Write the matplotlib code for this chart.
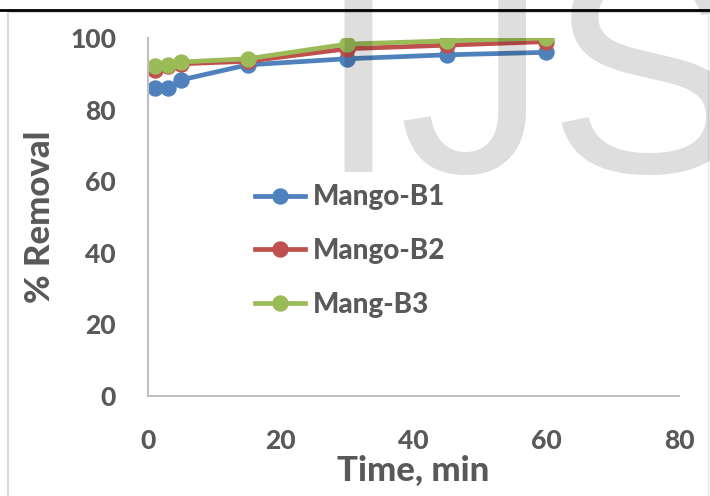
import matplotlib.pyplot as plt
from matplotlib.lines import Line2D

time_min = [1, 3, 5, 15, 30, 45, 60]
mango_b1 = [86, 86, 88.3, 92.5, 94.2, 95.3, 96]
mango_b2 = [91, 92.3, 92.8, 93.5, 97, 98, 99]
mang_b3 = [92.2, 92.5, 93.3, 94.2, 98.3, 99.2, 100]

series_names = ['Mango-B1', 'Mango-B2', 'Mang-B3']
colors = ['#4F81BD', '#C0504D', '#9BBB59']
x_ticks = [0, 20, 40, 60, 80]
y_ticks = [0, 20, 40, 60, 80, 100]

plt.rcParams['font.family'] = ['Lato', 'DejaVu Sans']
txt = '#595959'
wt = 'black'

fig = plt.figure(figsize=(7.1, 4.96), dpi=100)
ax = fig.add_axes([148/710, 100/496, 531/710, 358/496])

for y, name, col in zip([mango_b1, mango_b2, mang_b3], series_names, colors):
    ax.plot(time_min, y, color=col, lw=3.4, marker='o', ms=10.8,
            label=name, solid_capstyle='round')

ax.set_xlim(0, 80)
ax.set_ylim(0, 100)
ax.set_xticks(x_ticks)
ax.set_yticks(y_ticks)
ax.tick_params(length=0, labelsize=19, labelcolor=txt)
ax.tick_params(axis='y', pad=23)
ax.tick_params(axis='x', pad=24)
for lab in ax.get_xticklabels() + ax.get_yticklabels():
    lab.set_fontweight(wt)

for side in ['top', 'right']:
    ax.spines[side].set_visible(False)
for side in ['left', 'bottom']:
    ax.spines[side].set_color('#BFBFBF')
    ax.spines[side].set_linewidth(1.5)

ax.set_xlabel('Time, min', fontsize=25, fontweight=wt, color=txt, labelpad=1)
ax.set_ylabel('% Removal', fontsize=25, fontweight=wt, color=txt, labelpad=10)

handles = [Line2D([], [], color=c, lw=3.4, marker='o', ms=10.8) for c in colors]
leg = ax.legend(handles, series_names, loc='center left', bbox_to_anchor=(0.155, 0.405),
                bbox_transform=ax.transAxes, frameon=False, labelspacing=1.0,
                handlelength=1.8, handletextpad=0.28,
                prop={'weight': wt, 'size': 20})
for t in leg.get_texts():
    t.set_color(txt)

# chart border and header rule
fig.add_artist(plt.Line2D([7.5/710, 7.5/710], [0, 484/496], color='#D9D9D9', lw=1.5))
fig.add_artist(plt.Line2D([7.5/710, 1], [484/496, 484/496], color='#D9D9D9', lw=1.5))
fig.add_artist(plt.Line2D([708/710, 708/710], [0, 484/496], color='#E8E8E8', lw=1))
fig.add_artist(plt.Line2D([0, 1], [486/496, 486/496], color='black', lw=2))

# watermark
fig.text(317/710, 324/496, 'IJS', fontsize=215, family='Liberation Sans',
         color='black', alpha=0.13, ha='left', va='baseline', zorder=10)

fig.savefig('out.png', dpi=100)
